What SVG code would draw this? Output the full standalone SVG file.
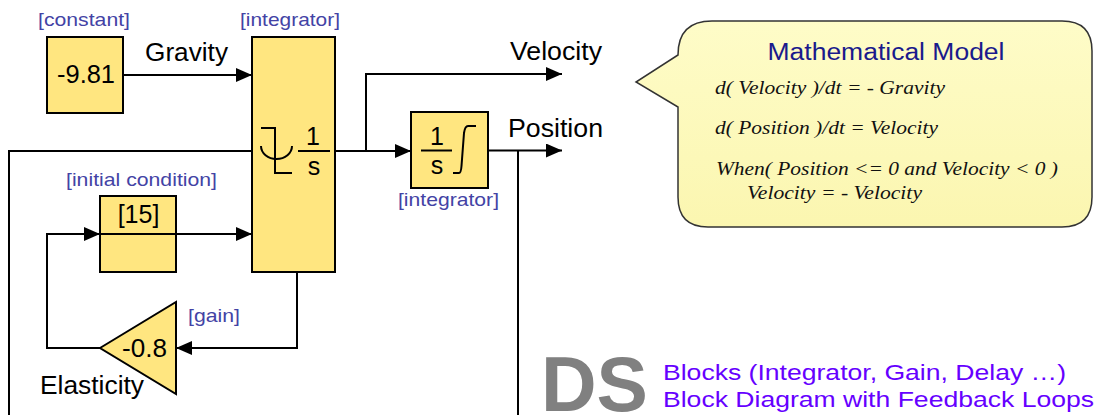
<svg xmlns="http://www.w3.org/2000/svg" width="1095" height="415" viewBox="0 0 1095 415">
<defs>
<marker id="arr" markerUnits="userSpaceOnUse" markerWidth="16" markerHeight="14" refX="16" refY="7" orient="auto">
<path d="M0,0 L16,7 L0,14 Z" fill="#000"/>
</marker>
<linearGradient id="cg" x1="0" y1="0" x2="0" y2="1">
<stop offset="0" stop-color="#fefcc8"/>
<stop offset="1" stop-color="#fbf6b0"/>
</linearGradient>
</defs>
<style>
.blk{fill:#ffe680;stroke:#000;stroke-width:2}
.ln{fill:none;stroke:#000;stroke-width:2}
.lab{font-family:"Liberation Sans",Arial,sans-serif;font-size:25px;fill:#000}
.tag{font-family:"Liberation Sans",Arial,sans-serif;font-size:19px;fill:#4343a5}
.eq{font-family:"Liberation Serif","Times New Roman",serif;font-style:italic;font-size:18.5px;fill:#111}
.sub{font-family:"Liberation Sans",Arial,sans-serif;font-size:22.5px;fill:#6600ff}
</style>
<rect width="1095" height="415" fill="#fff"/>

<g id="constant">
<rect class="blk" x="47" y="37" width="76" height="76"/>
<text class="lab" x="57" y="83" textLength="58" lengthAdjust="spacingAndGlyphs">-9.81</text>
<text class="tag" x="38" y="26" textLength="92" lengthAdjust="spacingAndGlyphs">[constant]</text>
</g>

<g id="integrator1">
<rect class="blk" x="252" y="37" width="83" height="235"/>
<path class="ln" d="M261,128 H275 V173 H292"/>
<path class="ln" d="M261,146 A15.5,13 0 0 0 292,146"/>
<line class="ln" x1="298" y1="151" x2="330" y2="151"/>
<text class="lab" x="313" y="145" text-anchor="middle" font-size="24">1</text>
<text class="lab" x="314" y="175" text-anchor="middle" font-size="24">s</text>
<text class="tag" x="240" y="26" textLength="100" lengthAdjust="spacingAndGlyphs">[integrator]</text>
</g>

<g id="initial">
<rect class="blk" x="100" y="196" width="76" height="76"/>
<text class="lab" x="138.5" y="223" text-anchor="middle">[15]</text>
<text class="tag" x="66" y="186" textLength="151" lengthAdjust="spacingAndGlyphs">[initial condition]</text>
</g>

<g id="gain">
<polygon class="blk" points="100,348 176,302 176,394"/>
<text class="lab" x="122" y="357" textLength="45" lengthAdjust="spacingAndGlyphs">-0.8</text>
<text class="tag" x="188" y="322" textLength="52" lengthAdjust="spacingAndGlyphs">[gain]</text>
<text class="lab" x="40" y="394" textLength="104" lengthAdjust="spacingAndGlyphs">Elasticity</text>
</g>

<g id="integrator2">
<rect class="blk" x="411" y="112" width="77" height="76"/>
<line class="ln" x1="421" y1="150.5" x2="452" y2="150.5"/>
<text class="lab" x="437" y="145" text-anchor="middle" font-size="24">1</text>
<text class="lab" x="437" y="174" text-anchor="middle" font-size="24">s</text>
<path class="ln" d="M453,173 H459 Q461,173 461.5,166 L464,133 Q465,126 468,126 H476"/>
<text class="tag" x="398" y="206" textLength="101" lengthAdjust="spacingAndGlyphs">[integrator]</text>
</g>

<g id="connectors">
<path class="ln" d="M123,75 H252" marker-end="url(#arr)"/>
<path class="ln" d="M252,151 H9 V415"/>
<path class="ln" d="M47,234 H100" marker-end="url(#arr)"/>
<path class="ln" d="M100,234 H252" marker-end="url(#arr)"/>
<path class="ln" d="M297,272 V348 H176" marker-end="url(#arr)"/>
<path class="ln" d="M100,348 H47 V233"/>
<path class="ln" d="M335,151 H411" marker-end="url(#arr)"/>
<path class="ln" d="M366,151 V74 H562" marker-end="url(#arr)"/>
<path class="ln" d="M488,150.5 H562" marker-end="url(#arr)"/>
<path class="ln" d="M518,150.5 V415"/>
</g>

<g id="signal-labels">
<text class="lab" x="145" y="61" textLength="83" lengthAdjust="spacingAndGlyphs">Gravity</text>
<text class="lab" x="510" y="60" textLength="92" lengthAdjust="spacingAndGlyphs">Velocity</text>
<text class="lab" x="508" y="137" textLength="95" lengthAdjust="spacingAndGlyphs">Position</text>
</g>

<g id="callout">
<path d="M678,55 Q678,21 712,21 H1062 Q1092,21 1092,51 V197 Q1092,227 1062,227 H708 Q678,227 678,197 V107 L636,82 Z" fill="url(#cg)" stroke="#333" stroke-width="1.5"/>
<text x="886" y="60" text-anchor="middle" font-family="'Liberation Sans',Arial,sans-serif" font-size="23.5" fill="#1a1a8c" textLength="237" lengthAdjust="spacingAndGlyphs">Mathematical Model</text>
<text class="eq" x="715" y="94" textLength="230" lengthAdjust="spacingAndGlyphs">d( Velocity )/dt = - Gravity</text>
<text class="eq" x="715" y="134" textLength="223" lengthAdjust="spacingAndGlyphs">d( Position )/dt = Velocity</text>
<text class="eq" x="716" y="175" textLength="342" lengthAdjust="spacingAndGlyphs">When( Position &lt;= 0 and Velocity &lt; 0 )</text>
<text class="eq" x="747" y="199" textLength="175" lengthAdjust="spacingAndGlyphs">Velocity = - Velocity</text>
</g>

<g id="footer">
<text x="541" y="411" font-family="'Liberation Sans',Arial,sans-serif" font-weight="bold" font-size="77" fill="#808080">DS</text>
<text class="sub" x="663" y="380" textLength="403" lengthAdjust="spacingAndGlyphs">Blocks (Integrator, Gain, Delay …)</text>
<text class="sub" x="663" y="407" textLength="431" lengthAdjust="spacingAndGlyphs">Block Diagram with Feedback Loops</text>
</g>
</svg>
